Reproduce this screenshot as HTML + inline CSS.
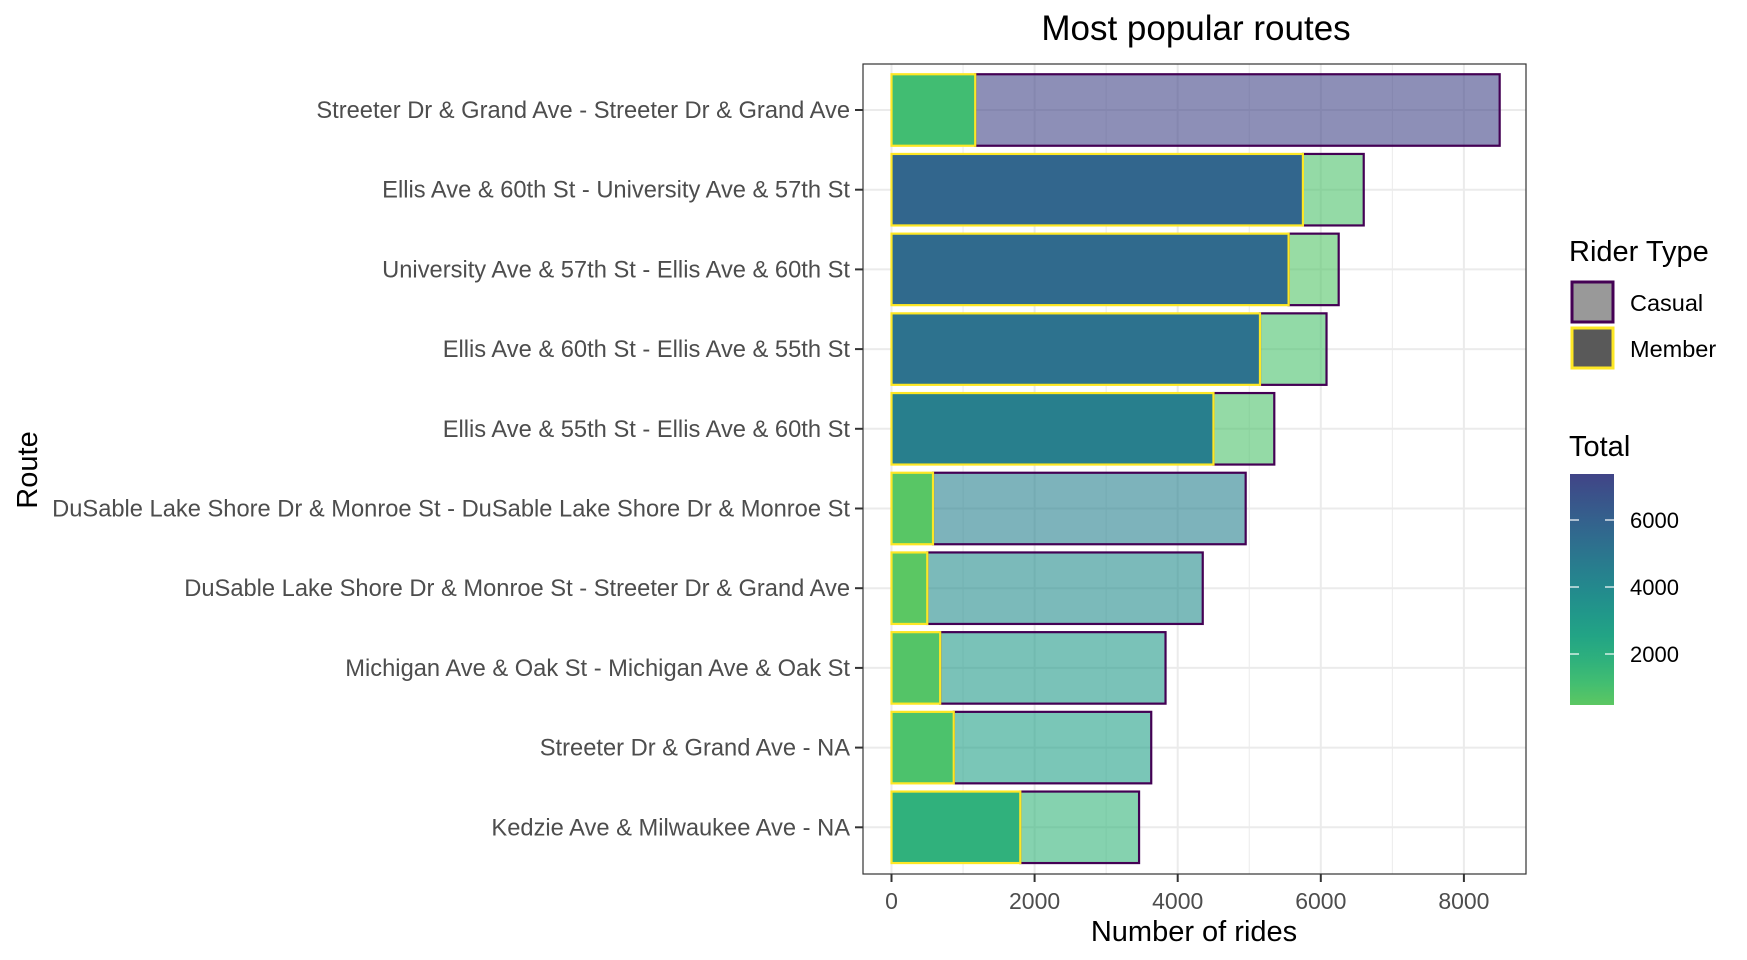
<!DOCTYPE html>
<html><head><meta charset="utf-8"><style>
html,body{margin:0;padding:0;background:#fff;}
svg{display:block;font-family:"Liberation Sans",Arial,sans-serif;}
</style></head><body>
<svg id="chart" width="1747" height="960" viewBox="0 0 1747 960" xmlns="http://www.w3.org/2000/svg">
<defs>
<linearGradient id="cbar" x1="0" y1="1" x2="0" y2="0"></linearGradient>
</defs>
<text x="1196" y="40" font-size="35" text-anchor="middle" fill="#000">Most popular routes</text>
<g id="grid"></g>
<g id="bars"></g>
<rect x="863" y="64" width="663" height="810" fill="none" stroke="#333" stroke-width="1.2"/>
<g id="axes"></g>
<text x="1194" y="941" font-size="29" text-anchor="middle" fill="#000">Number of rides</text>
<text x="0" y="0" font-size="29" text-anchor="middle" fill="#000" transform="translate(37,470) rotate(-90)">Route</text>
<g id="legend" transform="translate(-7,0)">
<text x="1576" y="261" font-size="29" fill="#000">Rider Type</text>
<rect x="1579" y="282" width="41" height="40" fill="#999" stroke="#440154" stroke-width="3"/>
<text x="1637" y="311" font-size="23.5" fill="#000">Casual</text>
<rect x="1579" y="328" width="41" height="40" fill="#595959" stroke="#fde725" stroke-width="3"/>
<text x="1637" y="357" font-size="23.5" fill="#000">Member</text>
<text x="1576" y="456" font-size="29" fill="#000">Total</text>
<rect x="1577" y="474" width="44" height="231" fill="url(#cbar)"/>
<g id="cbticks"></g>
</g>
</svg>
<script>
const routes = ["Streeter Dr & Grand Ave - Streeter Dr & Grand Ave","Ellis Ave & 60th St - University Ave & 57th St","University Ave & 57th St - Ellis Ave & 60th St","Ellis Ave & 60th St - Ellis Ave & 55th St","Ellis Ave & 55th St - Ellis Ave & 60th St","DuSable Lake Shore Dr & Monroe St - DuSable Lake Shore Dr & Monroe St","DuSable Lake Shore Dr & Monroe St - Streeter Dr & Grand Ave","Michigan Ave & Oak St - Michigan Ave & Oak St","Streeter Dr & Grand Ave - NA","Kedzie Ave & Milwaukee Ave - NA"];
const memberRides = [1170,5750,5550,5150,4500,580,500,680,870,1800];
const casualRides = [7330,850,700,930,850,4370,3850,3150,2760,1660];
const xTicks = [0,2000,4000,6000,8000];
const xMinor = [1000,3000,5000,7000];
const cbTicks = [2000,4000,6000];
const cbMin = 478, cbMax = 7373;

const NS="http://www.w3.org/2000/svg";
function mk(tag,attrs,parent){const e=document.createElementNS(NS,tag);for(const k in attrs)e.setAttribute(k,attrs[k]);parent.appendChild(e);return e;}
const x0=891.5, pxPer=143.1/2000;
const xs=v=>x0+v*pxPer;
const yTop=110, yStep=79.7;
const ys=i=>yTop+i*yStep;
const barH=71.5;
const vir=[[0.0,"#440154"],[0.1,"#482475"],[0.2,"#414487"],[0.3,"#355f8d"],[0.4,"#2a788e"],[0.5,"#21918c"],[0.6,"#22a884"],[0.7,"#44bf70"],[0.8,"#7ad151"],[0.9,"#bddf26"],[1.0,"#fde725"]];
function hx(h){return [1,3,5].map(i=>parseInt(h.substr(i,2),16));}
function virAt(t){for(let i=0;i<vir.length-1;i++){if(t<=vir[i+1][0]){const f=(t-vir[i][0])/0.1;const a=hx(vir[i][1]),b=hx(vir[i+1][1]);return "rgb("+a.map((v,j)=>Math.round(v+(b[j]-v)*f)).join(",")+")";}}return vir[10][1];}
const tLow=0.745,tHigh=0.2;
function col(v){let f=(v-cbMin)/(cbMax-cbMin);f=Math.max(0,Math.min(1,f));return virAt(tLow+(tHigh-tLow)*f);}

const grid=document.getElementById('grid');
xMinor.forEach(v=>{const l=mk('line',{x1:xs(v),x2:xs(v),y1:64,y2:874,stroke:"#ebebeb","stroke-width":1},grid);});
xTicks.forEach(v=>{const l=mk('line',{x1:xs(v),x2:xs(v),y1:64,y2:874,stroke:"#ebebeb","stroke-width":2},grid);});
routes.forEach((r,i)=>{const l=mk('line',{x1:863,x2:1526,y1:ys(i),y2:ys(i),stroke:"#ebebeb","stroke-width":2},grid);});

const bars=document.getElementById('bars');
routes.forEach((r,i)=>{
  const m=memberRides[i], c=casualRides[i];
  const y=ys(i)-barH/2;
  const cb=mk('rect',{x:xs(m),y:y,width:xs(m+c)-xs(m),height:barH,fill:col(c),"fill-opacity":0.6,stroke:"#440154","stroke-width":2.2},bars);
  
  
  const mb=mk('rect',{x:xs(0),y:y,width:xs(m)-xs(0),height:barH,fill:col(m),stroke:"#fde725","stroke-width":2.2},bars);
  
  
});

const axes=document.getElementById('axes');
xTicks.forEach(v=>{
  const t=mk('line',{x1:xs(v),x2:xs(v),y1:874,y2:882,stroke:"#333","stroke-width":2},axes);
  
  
  const l=mk('text',{x:xs(v),y:909,"font-size":23,"text-anchor":"middle",fill:"#4d4d4d"},axes);l.textContent=v;
  
  
});
routes.forEach((r,i)=>{
  const t=mk('line',{x1:855,x2:863,y1:ys(i),y2:ys(i),stroke:"#333","stroke-width":2},axes);
  
  
  const l=mk('text',{x:850,y:ys(i)+8,"font-size":23.7,"text-anchor":"end",fill:"#4d4d4d"},axes);l.textContent=r;
  
  
});

const grad=document.getElementById('cbar');
for(let k=0;k<=10;k++){const v=cbMin+(cbMax-cbMin)*k/10;mk('stop',{offset:(k*10)+"%","stop-color":col(v)},grad);}
const cbt=document.getElementById('cbticks');
const cbY=v=>705-(v-cbMin)/(cbMax-cbMin)*231;
cbTicks.forEach(v=>{
  mk('line',{x1:1577,x2:1586,y1:cbY(v),y2:cbY(v),stroke:"#fff","stroke-width":1.2},cbt);
  mk('line',{x1:1612,x2:1621,y1:cbY(v),y2:cbY(v),stroke:"#fff","stroke-width":1.2},cbt);
  const l=mk('text',{x:1637,y:cbY(v)+8,"font-size":22,fill:"#000"},cbt);l.textContent=v;
  
  
});
</script>
</body></html>
